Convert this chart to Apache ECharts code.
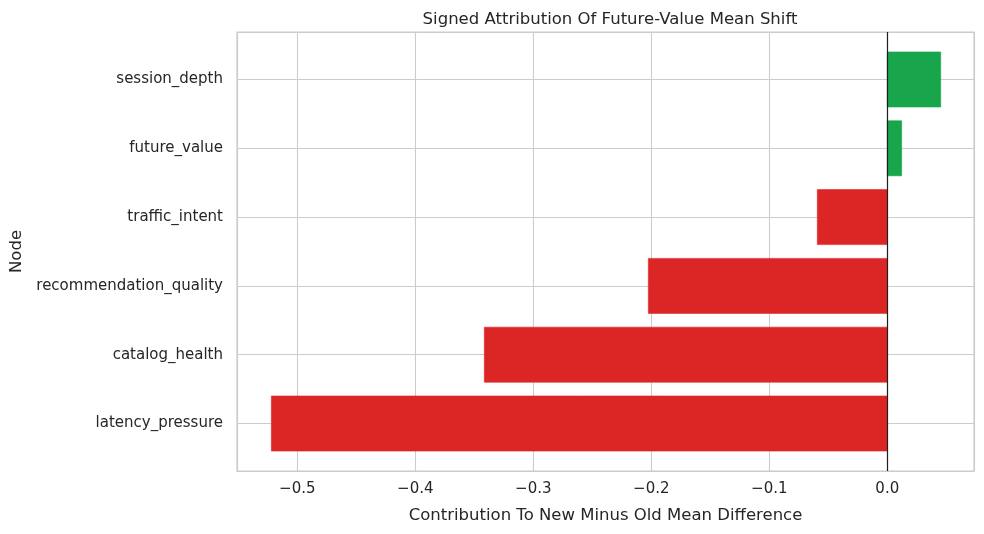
<!DOCTYPE html>
<html>
<head>
<meta charset="utf-8">
<script src="https://cdn.jsdelivr.net/npm/echarts@6/dist/echarts.min.js"></script>
<style>
  html, body { margin: 0; padding: 0; background: #ffffff; }
  #chart { width: 984px; height: 534px; }
</style>
</head>
<body>
<div id="chart"></div>
<script>
// bottom to top, as drawn on the y axis
const NODES = [
  "latency_pressure",
  "catalog_health",
  "recommendation_quality",
  "traffic_intent",
  "future_value",
  "session_depth"
];
const CONTRIBUTIONS = [-0.522, -0.3415, -0.2025, -0.0593, 0.0122, 0.0453];

const POS_COLOR = "#18a54b";
const NEG_COLOR = "#dc2626";
const FONT = "DejaVu Sans";
const TEXT_COLOR = "#262626";
const GRID_COLOR = "#cccccc";

function fmtTick(v) {
  const r = Math.round(v * 10) / 10;
  if (Math.abs(v - r) > 1e-6) {
    return "";
  }
  if (r < 0) {
    return "\u2212" + Math.abs(r).toFixed(1);
  }
  return r.toFixed(1);
}

const chart = echarts.init(document.getElementById("chart"));

chart.setOption({
  animation: false,
  backgroundColor: "#ffffff",
  textStyle: { fontFamily: FONT },
  title: {
    text: "Signed Attribution Of Future-Value Mean Shift",
    left: 605,
    textAlign: "center",
    top: 6,
    textStyle: {
      fontFamily: FONT,
      fontSize: 16.5,
      fontWeight: "normal",
      color: TEXT_COLOR
    }
  },
  grid: {
    left: 237,
    right: 10,
    top: 32,
    bottom: 63,
    show: true,
    borderColor: GRID_COLOR,
    borderWidth: 1.25,
    backgroundColor: "transparent"
  },
  xAxis: {
    type: "value",
    min: -0.5511,
    max: 0.0735,
    name: "Contribution To New Minus Old Mean Difference",
    nameLocation: "middle",
    nameGap: 36,
    nameTextStyle: { fontFamily: FONT, fontSize: 16.5, color: TEXT_COLOR },
    axisLine: { show: false },
    axisTick: { show: false },
    axisLabel: {
      fontFamily: FONT,
      fontSize: 15,
      color: TEXT_COLOR,
      margin: 11,
      showMinLabel: false,
      showMaxLabel: false,
      formatter: fmtTick
    },
    splitLine: { show: true, lineStyle: { color: GRID_COLOR, width: 1.1 } }
  },
  yAxis: {
    type: "value",
    min: -0.69,
    max: 5.69,
    name: "Node",
    nameLocation: "middle",
    nameRotate: 90,
    nameGap: 205,
    nameTextStyle: { fontFamily: FONT, fontSize: 16.5, color: TEXT_COLOR },
    axisLine: { show: false },
    axisTick: { show: false },
    axisLabel: {
      fontFamily: FONT,
      fontSize: 15,
      color: TEXT_COLOR,
      margin: 14,
      padding: [5, 0, 0, 0],
      showMinLabel: false,
      showMaxLabel: false,
      formatter: v => (Number.isInteger(v) && NODES[v] ? NODES[v] : "")
    },
    splitLine: { show: true, lineStyle: { color: GRID_COLOR, width: 1.1 } }
  },
  series: [
    {
      type: "custom",
      encode: { x: 0, y: 1 },
      data: CONTRIBUTIONS.map((v, i) => [v, i]),
      renderItem(params, api) {
        const val = api.value(0);
        const idx = api.value(1);
        const base = api.coord([0, idx]);
        const tip = api.coord([val, idx]);
        const h = api.size([0, 0.8])[1];
        const color = val >= 0 ? POS_COLOR : NEG_COLOR;
        return {
          type: "rect",
          shape: {
            x: Math.min(base[0], tip[0]),
            y: base[1] - h / 2,
            width: Math.abs(tip[0] - base[0]),
            height: h
          },
          style: {
            fill: color,
            stroke: color,
            lineWidth: 0.6
          }
        };
      },
      markLine: {
        silent: true,
        symbol: "none",
        label: { show: false },
        lineStyle: { color: "#1f1f1f", width: 1.2, type: "solid" },
        data: [{ xAxis: 0 }]
      },
      z: 3
    }
  ]
});
</script>
</body>
</html>
